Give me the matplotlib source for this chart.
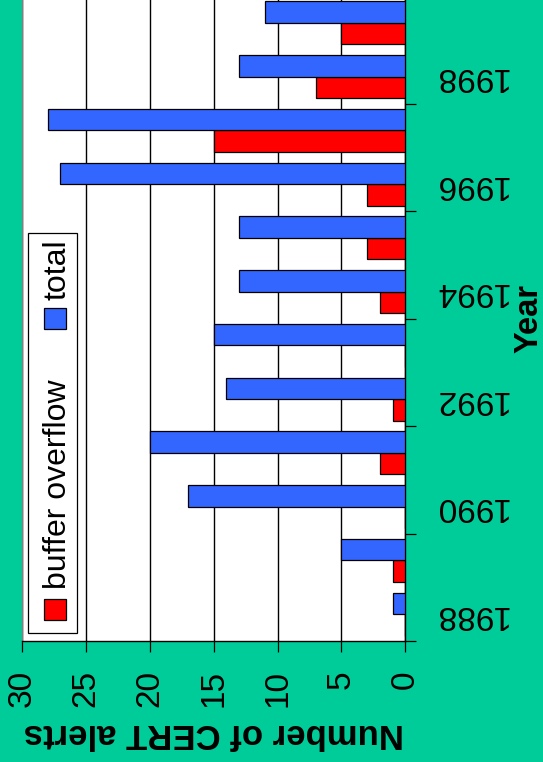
import matplotlib
matplotlib.use('Agg')
import matplotlib.pyplot as plt
import numpy as np
from matplotlib.patches import Rectangle

# CERT advisories per year
years = [1988, 1989, 1990, 1991, 1992, 1993, 1994, 1995, 1996, 1997, 1998, 1999]
buffer_overflow = [0, 1, 0, 2, 1, 0, 2, 3, 3, 15, 7, 5]
total = [1, 5, 17, 20, 14, 15, 13, 13, 27, 28, 13, 11]
series_names = ['buffer overflow', 'total']
label_years = [1988, 1990, 1992, 1994, 1996, 1998]
value_ticks = [0, 5, 10, 15, 20, 25, 30]

GREEN = '#00CC99'
RED = '#FF0000'
BLUE = '#3366FF'
FS = 24

plt.rcParams['font.family'] = ['Liberation Sans', 'DejaVu Sans']

W, H = 543, 762
fig = plt.figure(figsize=(W / 100, H / 100), dpi=100, facecolor=GREEN)


def px(x, y):
    # pixel position from the top-left corner -> figure fraction
    return x / W, 1 - y / H


# plot area, value axis runs right to left, years bottom to top
left, right, top, bottom = 22, 405.3, -4, 641
ax = fig.add_axes([left / W, 1 - bottom / H, (right - left) / W, (bottom - top) / H])
ax.set_facecolor('white')

y = np.array(years, dtype=float)
ax.barh(y - 0.2, buffer_overflow, height=0.4, color=RED, edgecolor='black', linewidth=0.9, zorder=3)
ax.barh(y + 0.2, total, height=0.4, color=BLUE, edgecolor='black', linewidth=0.9, zorder=3)

ax.set_xlim(30, 0)
ax.set_ylim(years[0] - 0.5, years[-1] + 0.5)

# value axis along the bottom
ax.set_xticks(value_ticks)
ax.set_xticklabels([str(v) for v in value_ticks], rotation=90, fontsize=FS)
ax.tick_params(axis='x', direction='out', length=8, width=0.9, color='black', pad=13)
ax.grid(axis='x', color='black', linewidth=1.0, zorder=1)
ax.set_xlabel('Number of CERT alerts', fontsize=25, fontweight='bold', rotation=180, labelpad=7)

# year axis on the right, ticks between every second category
ax.yaxis.tick_right()
ax.set_yticks(np.arange(years[0] - 0.5, years[-1] + 1, 2))
ax.set_yticklabels([])
ax.set_yticks(label_years, minor=True)
ax.set_yticklabels([str(v) for v in label_years], minor=True, rotation=180, fontsize=FS,
                   va='center')
ax.tick_params(axis='y', which='major', direction='out', length=8, width=0.9, color='black')
ax.tick_params(axis='y', which='minor', length=0, pad=20)
ax.yaxis.set_label_position('right')
ax.set_ylabel('Year', fontsize=23.5, fontweight='bold', rotation=90)
ax.yaxis.set_label_coords((513 - left) / (right - left), 0.5)

ax.spines['top'].set_visible(False)
ax.spines['left'].set_color('#808080')
ax.spines['right'].set_color('black')
ax.spines['bottom'].set_color('black')
for s in ax.spines.values():
    s.set_linewidth(1.0)

# legend box, drawn upright along the left edge
x0, y0 = px(28, 633)
x1, y1 = px(77, 233)
fig.patches.append(Rectangle((x0, y0), x1 - x0, y1 - y0, transform=fig.transFigure,
                             facecolor='white', edgecolor='black', linewidth=0.9, zorder=5))
for color, name, sq_top, txt_start in [(RED, series_names[0], 599, 589),
                                        (BLUE, series_names[1], 308, 300)]:
    sx, sy = px(44, sq_top + 21)
    fig.patches.append(Rectangle((sx, sy), 22 / W, 21 / H, transform=fig.transFigure,
                                 facecolor=color, edgecolor='black', linewidth=0.9, zorder=6))
    tx, ty = px(66, txt_start)
    fig.text(tx, ty, name, rotation=90, rotation_mode='anchor', ha='left', va='baseline',
             fontsize=23, zorder=7)

fig.savefig('out.png', dpi=100, facecolor=GREEN)
